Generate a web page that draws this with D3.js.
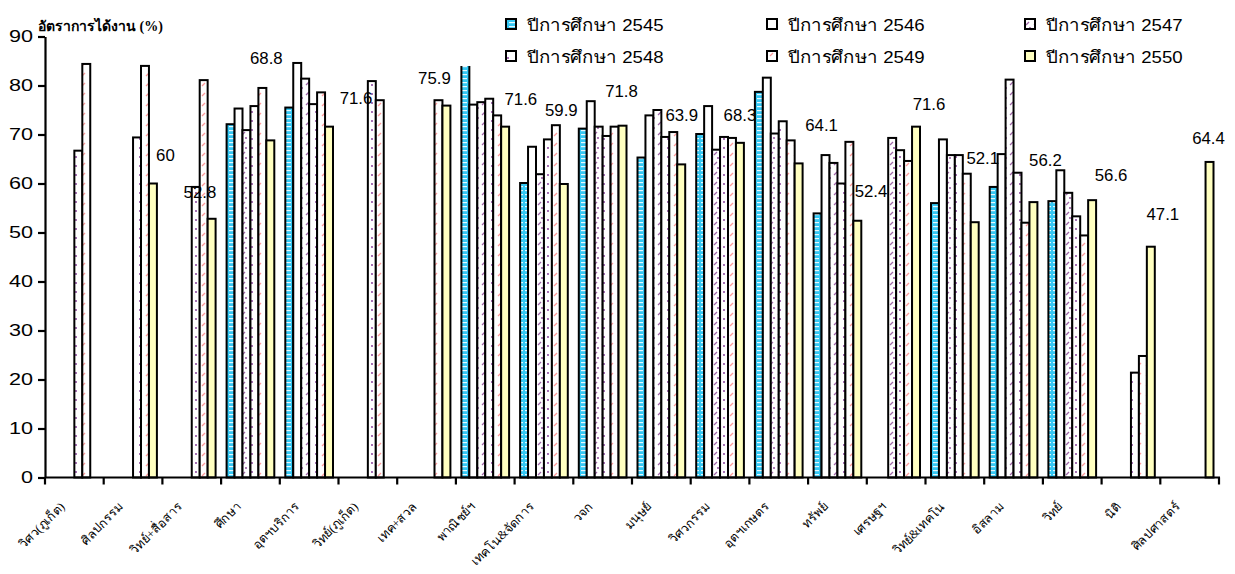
<!DOCTYPE html>
<html><head><meta charset="utf-8">
<script src="https://cdn.jsdelivr.net/npm/d3@7"></script>
<style>body{margin:0;background:#fff} svg{display:block}</style>
</head><body><svg id="c" width="1235" height="574"></svg>
<script>
const categories = ["วิศว(ภูเก็ต)","ศิลปกรรม","วิทย์+สื่อสาร","ศึกษา","อุตฯบริการ","วิทย์(ภูเก็ต)","เทค+สวล","พาณิชย์ฯ","เทคโน&จัดการ","วจก","มนุษย์","วิศวกรรม","อุตฯเกษตร","ทรัพย์","เศรษฐฯ","วิทย์&เทคโน","อิสลาม","วิทย์","นิติ","ศิลปศาสตร์"];
const years = ["2545","2546","2547","2548","2549","2550"];
const seriesNames = ["ปีการศึกษา 2545","ปีการศึกษา 2546","ปีการศึกษา 2547","ปีการศึกษา 2548","ปีการศึกษา 2549","ปีการศึกษา 2550"];
const v2545 = [null,null,null,72.1,75.5,null,null,86,60.1,71.2,65.3,70.1,78.7,53.9,null,56.0,59.3,56.4,null,null];
const v2546 = [null,null,null,75.3,84.6,null,null,76.1,67.5,76.8,73.9,75.8,81.6,65.8,null,69.0,66.0,62.7,null,null];
const v2547 = [null,null,null,70.9,81.4,null,null,76.6,61.9,71.6,75.0,66.9,70.2,64.2,69.3,65.8,81.2,58.1,null,null];
const v2548 = [66.7,69.4,59.3,75.8,76.2,80.9,null,77.3,69.0,69.7,69.5,69.5,72.7,60.0,66.8,65.8,62.2,53.3,21.4,null];
const v2549 = [84.4,84.0,81.1,79.5,78.6,77.0,77.0,73.9,71.9,71.6,70.5,69.3,68.8,68.5,64.6,62.0,52.0,49.4,24.8,null];
const v2550 = [null,60,52.8,68.8,71.6,null,75.9,71.6,59.9,71.8,63.9,68.3,64.1,52.4,71.6,52.1,56.2,56.6,47.1,64.4];
const yTicks = [0,10,20,30,40,50,60,70,80,90];
const yTitle = "อัตราการได้งาน (%)";
// label placement nudges (px) for 2550 data labels, relative to bar top centre
const labelNudge = [null,[12.5,-28],[-11.7,-26.3],[-4,-82.5],[27,-28.7],null,[-12,-27.8],[15.7,-27],[-2.5,-74],[-1,-34.7],[0.5,-49],[0,-28],[23,-38.5],[13.7,-29.7],[13,-22],[8,-64],[12,-41.7],[19,-25],[12,-32.5],[-1,-24]];

const allSeries = [v2545,v2546,v2547,v2548,v2549,v2550];
const svg = d3.select("#c");
const defs = svg.append("defs");

function pat(id,w,h,bg){const p=defs.append("pattern").attr("id",id).attr("patternUnits","userSpaceOnUse").attr("width",w).attr("height",h);p.append("rect").attr("width",w).attr("height",h).attr("fill",bg);return p;}
let p=pat("p2545",8,4,"#35C8F4");
p.append("rect").attr("x",0).attr("y",2).attr("width",3).attr("height",1.2).attr("fill","#e8f9fe");
p.append("rect").attr("x",5).attr("y",2).attr("width",3).attr("height",1.2).attr("fill","#e8f9fe");
p=pat("p2547",8,10,"#fff");
p.append("line").attr("x1",2).attr("y1",5).attr("x2",5).attr("y2",2).attr("stroke","#A066A8").attr("stroke-width",1.3);
p.append("circle").attr("cx",6).attr("cy",8).attr("r",0.9).attr("fill","#8a3c96");
p=pat("p2548",8,9,"#fff");
p.append("circle").attr("cx",4).attr("cy",4).attr("r",0.9).attr("fill","#7a2c90");
p=pat("p2549",8,10,"#fff");
p.append("line").attr("x1",2).attr("y1",6).attr("x2",5).attr("y2",3).attr("stroke","#FF9A9A").attr("stroke-width",1.3);
const fills = ["url(#p2545)","#ffffff","url(#p2547)","url(#p2548)","url(#p2549)","#FFFFC0"];

const y = d3.scaleLinear().domain([0,90]).range([477.5,36.5]);
const x = d3.scaleBand().domain(categories).range([45,1219]);
const x1 = d3.scaleBand().domain(years).range([5.5, x.bandwidth()-5.5]);

const bars = [];
allSeries.forEach((arr,si)=>arr.forEach((v,ci)=>{ if(v!=null) bars.push({ci,si,v}); }));
svg.append("g").selectAll("rect").data(bars).join("rect")
  .attr("x",d=>x(categories[d.ci])+x1(years[d.si]))
  .attr("y",d=>y(d.v))
  .attr("width",x1.bandwidth())
  .attr("height",d=>y(0)-y(d.v))
  .attr("fill",d=>fills[d.si])
  .attr("stroke","#000").attr("stroke-width",2);

// legend (white box covers anything behind it)
const lg = svg.append("g");
lg.append("rect").attr("x",452).attr("y",4).attr("width",748).attr("height",62).attr("fill","#fff");
const colX = [506,767,1025], rowY = [19,51];
seriesNames.forEach((n,i)=>{
  const cx = colX[i%3], cy = rowY[Math.floor(i/3)];
  lg.append("rect").attr("x",cx).attr("y",cy).attr("width",10).attr("height",10)
    .attr("fill",fills[i]).attr("stroke","#000").attr("stroke-width",2);
  lg.append("text").attr("transform",`translate(${cx+21},${cy+12}) scale(1.13,1)`)
    .attr("font-family","Arial, 'Liberation Sans', sans-serif").attr("font-size",16.5).attr("fill","#000").text(n);
});

// y axis
const ya = svg.append("g").attr("transform","translate(45,0)")
  .call(d3.axisLeft(y).tickValues(yTicks).tickSize(7).tickSizeOuter(0).tickFormat(""));
ya.select(".domain").attr("stroke","#000").attr("stroke-width",2.2);
ya.selectAll(".tick line").attr("stroke","#000").attr("stroke-width",2.2);
svg.append("g").selectAll("text").data(yTicks).join("text")
  .attr("transform",v=>`translate(33,${y(v)}) scale(1.35,1)`)
  .attr("dy","0.36em").attr("text-anchor","end")
  .attr("font-family","Arial, 'Liberation Sans', sans-serif").attr("font-size",16).attr("fill","#000")
  .text(v=>v);

// x axis
const xg = svg.append("g");
xg.append("line").attr("x1",45).attr("x2",1220).attr("y1",y(0)).attr("y2",y(0)).attr("stroke","#000").attr("stroke-width",2.2);
const bounds = categories.map(c=>x(c)).concat([x.range()[1]]);
xg.selectAll("line.t").data(bounds).join("line").attr("class","t")
  .attr("x1",d=>d).attr("x2",d=>d).attr("y1",y(0)).attr("y2",y(0)+7)
  .attr("stroke","#000").attr("stroke-width",2.2);
xg.selectAll("text").data(categories).join("text")
  .attr("transform",c=>`translate(${x(c)+x.bandwidth()/2-9},${y(0)+30}) rotate(-45)`)
  .attr("text-anchor","end")
  .attr("font-family","'Liberation Serif', 'Times New Roman', serif")
  .attr("font-size",12.5).attr("fill","#000")
  .text(c=>c);

// y title
svg.append("text").attr("x",38).attr("y",31).attr("font-family","'Liberation Serif', serif")
  .attr("font-weight","bold").attr("font-size",14).attr("fill","#000").text(yTitle);

// data labels for 2550
svg.append("g").selectAll("text").data(v2550.map((v,ci)=>({v,ci})).filter(d=>d.v!=null && labelNudge[d.ci]))
  .join("text")
  .attr("transform",d=>`translate(${x(categories[d.ci])+x1("2550")+x1.bandwidth()/2+labelNudge[d.ci][0]},${y(d.v)+labelNudge[d.ci][1]}) scale(1.05,1)`)
  .attr("dy","0.36em").attr("text-anchor","middle")
  .attr("font-family","Arial, 'Liberation Sans', sans-serif").attr("font-size",16).attr("fill","#000")
  .text(d=>String(d.v));
</script></body></html>
